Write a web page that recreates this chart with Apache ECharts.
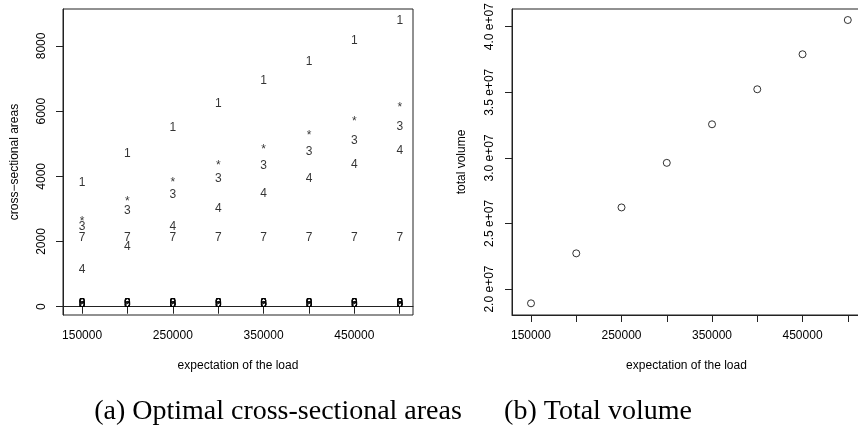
<!DOCTYPE html>
<html>
<head>
<meta charset="utf-8">
<script src="https://cdn.jsdelivr.net/npm/echarts@6/dist/echarts.min.js"></script>
<style>html,body{margin:0;padding:0;background:#fff}#c{width:858px;height:432px}</style>
</head>
<body>
<div id="c"></div>
<script>
// expectation of the load (x categories)
const loads = [150000, 200000, 250000, 300000, 350000, 400000, 450000, 500000];
// optimal cross-sectional areas, one array per member (label = plotting character)
const area1    = [3819, 4698, 5483, 6230, 6922, 7525, 8147, 8781];
const areaStar = [2600, 3210, 3800, 4330, 4820, 5260, 5690, 6120];
const area3    = [2450, 2940, 3452, 3942, 4340, 4747, 5106, 5513];
const area4    = [1124, 1838, 2450, 2993, 3473, 3942, 4370, 4778];
const area7    = [2125, 2125, 2125, 2125, 2125, 2125, 2125, 2125];
const areaZero = [80, 80, 80, 80, 80, 80, 80, 80];
const zeroLabels = ['2', '5', '6', '8', '9', '0'];
// total volume
const volume = [1.891e7, 2.272e7, 2.622e7, 2.962e7, 3.256e7, 3.523e7, 3.790e7, 4.051e7];
// tick values
const xTicks = [150000, 200000, 250000, 300000, 350000, 400000, 450000, 500000];
const xTickLabels = [150000, 250000, 350000, 450000];
const yTicksA = [0, 2000, 4000, 6000, 8000];
const yTicksB = [2.0e7, 2.5e7, 3.0e7, 3.5e7, 4.0e7];

const FONT = 'Liberation Sans, Arial, Helvetica, sans-serif';
const SERIF = 'Liberation Serif, Times New Roman, serif';
const LINE = '#222';

function xAxis(gi) {
  return {
    type: 'value', gridIndex: gi, min: 129000, max: 514600,
    name: 'expectation of the load', nameLocation: 'middle', nameGap: 45,
    nameTextStyle: {fontFamily: FONT, fontSize: 12, color: '#000'},
    axisLine: {show: true, lineStyle: {color: LINE, width: 1}},
    axisTick: {show: true, inside: false, length: 7, customValues: xTicks, lineStyle: {color: LINE}},
    axisLabel: {show: true, margin: 15, customValues: xTickLabels, fontFamily: FONT, fontSize: 12, color: '#000',
      formatter: v => String(v)},
    splitLine: {show: false}
  };
}

function labelSeries(vals, txt) {
  return {
    type: 'scatter', xAxisIndex: 0, yAxisIndex: 0, symbolSize: 0,
    data: loads.map((x, i) => [x, vals[i]]),
    label: {show: true, position: 'inside', formatter: txt, fontFamily: FONT, fontSize: 12, color: '#000'},
    silent: true, animation: false
  };
}

const series = [
  labelSeries(area1, '1'),
  labelSeries(areaStar, '*'),
  labelSeries(area3, '3'),
  labelSeries(area4, '4'),
  labelSeries(area7, '7')
];
zeroLabels.forEach(t => series.push(labelSeries(areaZero, t)));
series.push({
  type: 'scatter', xAxisIndex: 1, yAxisIndex: 1, symbol: 'circle', symbolSize: 7,
  data: loads.map((x, i) => [x, volume[i]]),
  itemStyle: {color: 'rgba(255,255,255,0)', borderColor: '#000', borderWidth: 1}, animation: false
});

const chart = echarts.init(document.getElementById('c'), null, {renderer: 'canvas'});
chart.setOption({
  backgroundColor: '#fff',
  animation: false,
  title: [
    {text: '(a) Optimal cross-sectional areas', left: 273, top: 393, textAlign: 'center',
     textStyle: {fontFamily: SERIF, fontSize: 28, fontWeight: 'normal', color: '#000'}},
    {text: '(b) Total volume', left: 593, top: 393, textAlign: 'center',
     textStyle: {fontFamily: SERIF, fontSize: 28, fontWeight: 'normal', color: '#000'}}
  ],
  grid: [
    {left: 63, top: 9, width: 350, height: 306, show: true, borderColor: LINE, borderWidth: 1, backgroundColor: 'transparent', containLabel: false, outerBoundsMode: 'none'},
    {left: 512, top: 9, width: 349, height: 306, show: true, borderColor: LINE, borderWidth: 1, backgroundColor: 'transparent', containLabel: false, outerBoundsMode: 'none'}
  ],
  xAxis: [xAxis(0), xAxis(1)],
  yAxis: [
    {type: 'value', gridIndex: 0, min: -254, max: 9133,
     name: 'cross\u2212sectional areas', nameLocation: 'middle', nameGap: 42, nameRotate: 90,
     nameTextStyle: {fontFamily: FONT, fontSize: 12, color: '#000'},
     axisLine: {show: true, lineStyle: {color: LINE, width: 1}},
     axisTick: {show: true, inside: false, length: 7, customValues: yTicksA, lineStyle: {color: LINE}},
     axisLabel: {show: true, rotate: 90, margin: 15, customValues: yTicksA, fontFamily: FONT, fontSize: 12, color: '#000',
       formatter: v => String(v)},
     splitLine: {show: false}},
    {type: 'value', gridIndex: 1, min: 1.802e7, max: 4.135e7,
     name: 'total volume', nameLocation: 'middle', nameGap: 44, nameRotate: 90,
     nameTextStyle: {fontFamily: FONT, fontSize: 12, color: '#000'},
     axisLine: {show: true, lineStyle: {color: LINE, width: 1}},
     axisTick: {show: true, inside: false, length: 7, customValues: yTicksB, lineStyle: {color: LINE}},
     axisLabel: {show: true, rotate: 90, margin: 16, customValues: yTicksB, fontFamily: FONT, fontSize: 12, color: '#000',
       formatter: v => (v / 1e7).toFixed(1) + ' e+07'},
     splitLine: {show: false}}
  ],
  series: series
});
</script>
</body>
</html>
